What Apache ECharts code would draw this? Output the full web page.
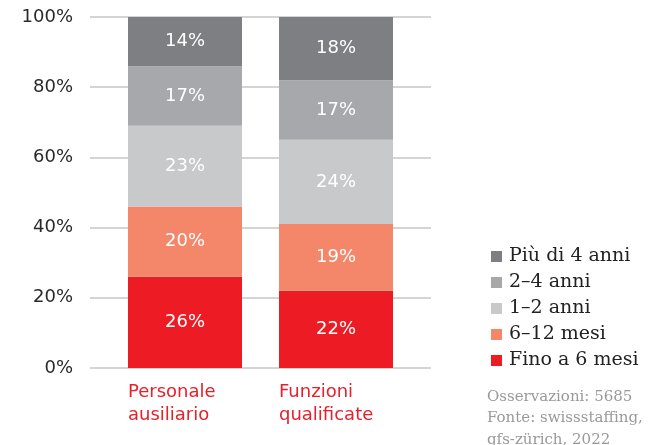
<!DOCTYPE html>
<html>
<head>
<meta charset="utf-8">
<script src="https://cdn.jsdelivr.net/npm/echarts@6/dist/echarts.min.js"></script>
<style>
  html, body { margin: 0; padding: 0; background: #fff; }
  #chart { width: 648px; height: 445px; }
</style>
</head>
<body>
<div id="chart"></div>
<script>
const categories = ['Personale\nausiliario', 'Funzioni\nqualificate']
const seriesNames = ['Fino a 6 mesi', '6–12 mesi', '1–2 anni', '2–4 anni', 'Più di 4 anni']
const fino6mesi = [26, 22]
const mesi6_12 = [20, 19]
const anni1_2 = [23, 24]
const anni2_4 = [17, 17]
const piu4anni = [14, 18]
const yTicks = [0, 20, 40, 60, 80, 100]
const sourceLines = ['Osservazioni: 5685', 'Fonte: swissstaffing,', 'gfs-zürich, 2022']

const values = [fino6mesi, mesi6_12, anni1_2, anni2_4, piu4anni]
const colors = ['#ed1c24', '#f4866a', '#c8c9cb', '#a7a8ab', '#7e7f83']

const sans = "'DejaVu Sans', sans-serif"
const serif = "'DejaVu Serif', serif"

const chart = echarts.init(document.getElementById('chart'))

const option = {
  backgroundColor: '#fff',
  animation: false,
  grid: [
    { left: 90, right: 217, top: 17, bottom: 77 },
    { left: 109.5, right: 236.5, top: 17, bottom: 77 }
  ],
  xAxis: [
    { type: 'category', gridIndex: 0, data: [''], show: false },
    {
      type: 'category',
      gridIndex: 1,
      data: categories,
      axisLine: { show: false },
      axisTick: { show: false },
      axisLabel: {
        margin: 13,
        align: 'center',
        formatter: v => v.split('\n').map(s => '{a|' + s + '}').join('\n'),
        rich: {
          a: {
            width: 114,
            align: 'left',
            color: '#e8202a',
            fontFamily: sans,
            fontSize: 18,
            lineHeight: 23
          }
        }
      }
    }
  ],
  yAxis: [
    {
      type: 'value',
      gridIndex: 0,
      min: yTicks[0],
      max: yTicks[yTicks.length - 1],
      interval: 20,
      axisLine: { show: false },
      axisTick: { show: false },
      axisLabel: {
        margin: 17,
        color: '#2a2a2a',
        fontFamily: sans,
        fontSize: 18,
        formatter: '{value}%'
      },
      splitLine: { lineStyle: { color: '#c6c6c6', width: 1.5 } }
    },
    {
      type: 'value',
      gridIndex: 1,
      min: 0,
      max: 100,
      show: false,
      splitLine: { show: false }
    }
  ],
  legend: {
    orient: 'vertical',
    left: 486,
    top: 241,
    itemWidth: 11,
    itemHeight: 11,
    itemGap: 5,
    icon: 'rect',
    data: seriesNames.slice().reverse(),
    textStyle: { color: '#222', fontFamily: serif, fontSize: 19, lineHeight: 21, padding: [0, 0, 0, 2] }
  },
  series: seriesNames.map((name, i) => ({
    name,
    type: 'bar',
    stack: 'total',
    xAxisIndex: 1,
    yAxisIndex: 1,
    barWidth: 114,
    data: values[i],
    itemStyle: { color: colors[i] },
    label: {
      show: true,
      position: 'inside',
      color: '#fff',
      fontFamily: sans,
      fontSize: 18,
      formatter: '{c}%'
    }
  })),
  graphic: [
    {
      type: 'text',
      left: 487,
      top: 386,
      style: {
        text: sourceLines.join('\n'),
        fill: '#999',
        font: '15px ' + serif,
        lineHeight: 21.5
      }
    }
  ]
}

chart.setOption(option)
</script>
</body>
</html>
